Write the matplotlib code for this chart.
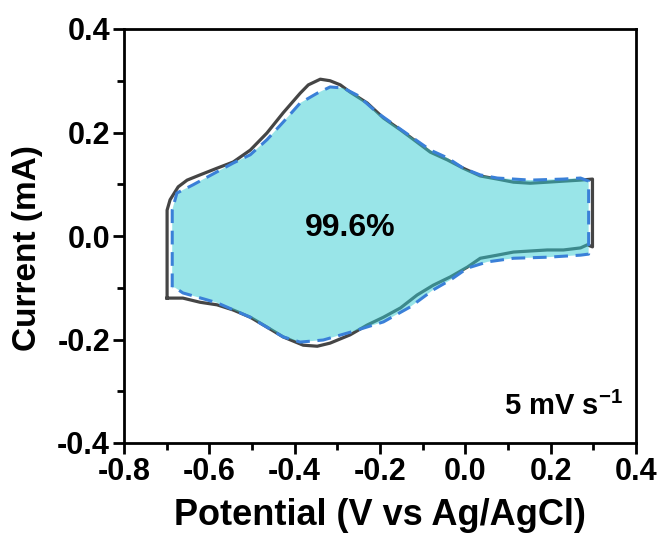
import matplotlib
matplotlib.use("Agg")
import matplotlib.pyplot as plt
from matplotlib.ticker import MultipleLocator

plt.rcParams['font.family'] = ['Liberation Sans', 'DejaVu Sans']
plt.rcParams['font.weight'] = 'bold'
plt.rcParams['mathtext.fontset'] = 'custom'
plt.rcParams['mathtext.rm'] = 'Liberation Sans:bold'
plt.rcParams['mathtext.bf'] = 'Liberation Sans:bold'

# Measured CV (solid gray)
meas_x = [-0.699, -0.699, -0.699, -0.692, -0.673, -0.652, -0.622, -0.582, -0.544, -0.504,
          -0.465, -0.427, -0.387, -0.368, -0.340, -0.317, -0.293, -0.270, -0.230, -0.192,
          -0.152, -0.129, -0.082, -0.042, -0.005, 0.035, 0.075, 0.113, 0.152, 0.192,
          0.230, 0.270, 0.298, 0.298,
          0.286, 0.270, 0.230, 0.192, 0.152, 0.113, 0.075, 0.035, 0.005, -0.035,
          -0.075, -0.113, -0.152, -0.192, -0.230, -0.270, -0.317, -0.347, -0.380, -0.427,
          -0.465, -0.504, -0.544, -0.582, -0.622, -0.662, -0.699]
meas_y = [-0.120, -0.027, 0.050, 0.070, 0.095, 0.108, 0.118, 0.131, 0.143, 0.166,
          0.199, 0.238, 0.276, 0.292, 0.303, 0.300, 0.292, 0.278, 0.257, 0.228,
          0.205, 0.191, 0.162, 0.147, 0.131, 0.116, 0.110, 0.104, 0.102, 0.104,
          0.106, 0.108, 0.110, -0.021,
          -0.017, -0.023, -0.027, -0.027, -0.029, -0.031, -0.037, -0.043, -0.060, -0.079,
          -0.095, -0.114, -0.139, -0.157, -0.172, -0.191, -0.207, -0.213, -0.211, -0.195,
          -0.176, -0.157, -0.143, -0.133, -0.128, -0.120, -0.120]

# Fitted / ideal CV (blue dashed, filled)
fit_x = [-0.687, -0.687, -0.687, -0.676, -0.638, -0.591, -0.544, -0.504, -0.465, -0.427,
         -0.387, -0.347, -0.317, -0.286, -0.253, -0.206, -0.160, -0.082, -0.042, -0.005,
         0.035, 0.075, 0.152, 0.230, 0.270, 0.289, 0.289,
         0.270, 0.192, 0.113, 0.052, 0.005, -0.035, -0.075, -0.129, -0.192, -0.270,
         -0.333, -0.387, -0.427, -0.504, -0.582, -0.662, -0.680, -0.687]
fit_y = [-0.099, -0.027, 0.050, 0.083, 0.099, 0.120, 0.141, 0.157, 0.186, 0.220,
         0.257, 0.276, 0.288, 0.286, 0.272, 0.238, 0.211, 0.166, 0.151, 0.131,
         0.118, 0.112, 0.108, 0.110, 0.112, 0.106, -0.035,
         -0.037, -0.041, -0.043, -0.050, -0.062, -0.085, -0.104, -0.137, -0.166, -0.186,
         -0.201, -0.205, -0.195, -0.157, -0.129, -0.110, -0.100, -0.099]

xticks = [-0.8, -0.6, -0.4, -0.2, 0.0, 0.2, 0.4]
yticks = [-0.4, -0.2, 0.0, 0.2, 0.4]
ratio_label = "99.6%"
rate_label = r"5 mV s$^{\mathbf{-1}}$"

fig = plt.figure(figsize=(6.62, 5.43), dpi=100)
ax = fig.add_axes([124/662, 100/543, 512/662, 414/543])

ax.plot(meas_x, meas_y, color='#454545', lw=2.3, zorder=2)
ax.fill(fit_x, fit_y, color='#35cdd3', alpha=0.5, lw=0, zorder=3)
ax.plot(fit_x, fit_y, color='#3a80d8', lw=2.2, ls=(0, (4.5, 2.5)), zorder=4)

ax.text(-0.27, 0.015, ratio_label, ha='center', va='center', fontsize=23, fontweight='bold', zorder=5)
ax.text(0.368, -0.346, rate_label, ha='right', va='baseline', fontsize=21, fontweight='bold')

ax.set_xlim(-0.8, 0.4)
ax.set_ylim(-0.4, 0.4)
ax.set_xticks(xticks)
ax.set_yticks(yticks)
ax.set_xticklabels([f"{t:.1f}" for t in xticks])
ax.set_yticklabels([f"{t:.1f}" for t in yticks])
ax.xaxis.set_minor_locator(MultipleLocator(0.1))
ax.yaxis.set_minor_locator(MultipleLocator(0.1))
ax.tick_params(which='major', direction='out', length=8, width=2, labelsize=22, pad=2)
ax.tick_params(which='minor', direction='out', length=5, width=2)
for s in ax.spines.values():
    s.set_linewidth(2)

ax.set_xlabel("Potential (V vs Ag/AgCl)", fontsize=26, fontweight='bold', labelpad=8)
ax.set_ylabel("Current (mA)", fontsize=24, fontweight='bold')
ax.yaxis.set_label_coords(-0.158, 0.47)

fig.savefig("out.png", dpi=100)
